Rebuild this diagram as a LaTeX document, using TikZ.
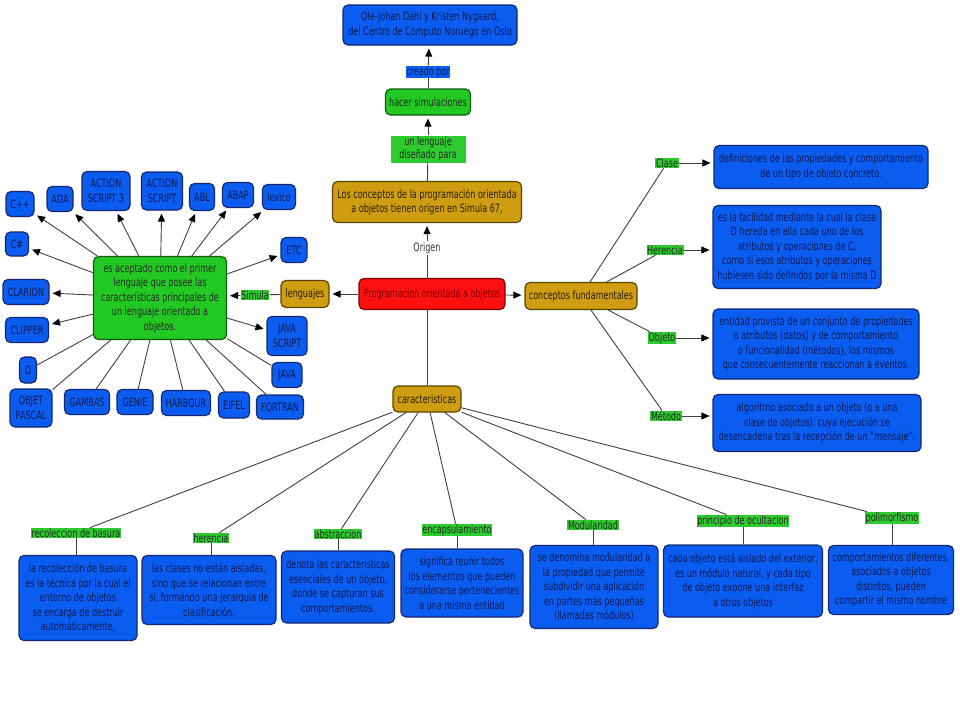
\documentclass[tikz,border=0pt]{standalone}
\usepackage{fontspec}
\setmainfont{DejaVu Sans}[FakeStretch=0.70]
\usetikzlibrary{arrows.meta}
\definecolor{azul}{HTML}{0B5DF2}
\definecolor{azulborde}{HTML}{14286E}
\definecolor{azultexto}{HTML}{0A1A50}
\definecolor{verde}{HTML}{22C922}
\definecolor{verdeborde}{HTML}{0E5A0E}
\definecolor{verdeet}{HTML}{2DCB2D}
\definecolor{oro}{HTML}{CF9D12}
\definecolor{oroborde}{HTML}{5C4500}
\definecolor{orotexto}{HTML}{2A1F00}
\definecolor{rojo}{HTML}{FF1010}
\definecolor{rojoborde}{HTML}{7A0000}
\definecolor{linea}{HTML}{404040}
\tikzset{
  base/.style={rounded corners=5pt, line width=1.2pt, align=center, inner sep=1pt,
    font=\fontsize{11.5}{14.5}\selectfont},
  azulcaja/.style={base, draw=azulborde, fill=azul, text=azultexto},
  verdecaja/.style={base, draw=verdeborde, fill=verde, text=black!85},
  orocaja/.style={base, draw=oroborde, fill=oro, text=orotexto},
  rojocaja/.style={base, draw=rojoborde, fill=rojo, text=rojoborde},
  etiqueta/.style={fill=verdeet, inner sep=0.6pt, align=center, text=black!85,
    font=\fontsize{11.5}{13}\selectfont},
  enlace/.style={draw=linea, line width=0.9pt},
  flecha/.style={enlace, -{Triangle[length=8pt,width=7pt,color=black]}, shorten >=3pt}
}
\begin{document}
\begin{tikzpicture}[x=1pt,y=-1pt]
\useasboundingbox (0,0) rectangle (960,720);
\fill[white] (0,0) rectangle (960,720);
%% origen
\node[azulcaja, minimum width=174, minimum height=40] (autores) at (430,25) {Ole-Johan Dahl y Kristen Nygaard,\\del Centro de Cómputo Noruego en Oslo};
\node[etiqueta, fill=azul, text=azultexto] (creado) at (428,72) {creado por};
\node[verdecaja, minimum width=85, minimum height=26] (simular) at (428,102) {hacer simulaciones};
\node[etiqueta, minimum width=75, minimum height=27] (disenado) at (428,149) {un lenguaje\\diseñado para};
\node[orocaja, minimum width=189, minimum height=41] (simula67) at (427,202) {Los conceptos de la programación orientada\\a objetos tienen origen en Simula 67,};
\node[font=\fontsize{11.5}{13}\selectfont, text=black!80, inner sep=1pt] (origen) at (427,248) {Origen};
\node[rojocaja, minimum width=146, minimum height=31] (poo) at (432,294) {Programacion orientada a objetos};
\node[orocaja, minimum width=48, minimum height=27] (lenguajes) at (305,294) {lenguajes};
\node[orocaja, minimum width=112, minimum height=27] (conceptos) at (581,296) {conceptos fundamentales};
\node[orocaja, minimum width=68, minimum height=26] (caract) at (427,399) {caracteristicas};
\draw[enlace] (origen) -- (origen |- poo.north);
\draw[flecha] (origen) -- (simula67);
\draw[enlace] (simula67) -- (disenado);
\draw[flecha] (disenado) -- (simular);
\draw[enlace] (simular) -- (creado);
\draw[flecha] (creado) -- (autores);
\draw[flecha] (poo) -- (lenguajes);
\draw[flecha] (poo) -- (conceptos);
\draw[enlace] (caract) -- (caract |- poo.south);
%% lenguajes
\node[etiqueta] (simula) at (255,295) {Simula};
\node[verdecaja, minimum width=133, minimum height=83] (primer) at (160,298) {es aceptado como el primer\\lenguaje que posee las\\características principales de\\un lenguaje orientado a\\objetos.};
\draw[enlace] (lenguajes) -- (simula);
\draw[flecha] (simula) -- (primer);
\node[azulcaja, minimum width=28, minimum height=25] (cpp) at (20,204) {C++};
\node[azulcaja, minimum width=26, minimum height=25] (ada) at (60,199) {ADA};
\node[azulcaja, minimum width=48, minimum height=39] (as3) at (106,191) {ACTION\\SCRIPT 3};
\node[azulcaja, minimum width=41, minimum height=38] (as) at (162,191) {ACTION\\SCRIPT};
\node[azulcaja, minimum width=25, minimum height=27] (abl) at (202,197) {ABL};
\node[azulcaja, minimum width=31, minimum height=25] (abap) at (238,195) {ABAP};
\node[azulcaja, minimum width=33, minimum height=25] (lexico) at (279,197) {lexico};
\node[azulcaja, minimum width=23, minimum height=24] (csharp) at (17,244) {C\#};
\node[azulcaja, minimum width=26, minimum height=25] (etc) at (294,250) {ETC};
\node[azulcaja, minimum width=46, minimum height=25] (clarion) at (26,292) {CLARION};
\node[azulcaja, minimum width=43, minimum height=25] (clipper) at (27,330) {CLIPPER};
\node[azulcaja, minimum width=40, minimum height=39] (js) at (287,336) {JAVA\\SCRIPT};
\node[azulcaja, minimum width=17, minimum height=26] (d) at (28,370) {D};
\node[azulcaja, minimum width=30, minimum height=25] (java) at (287,375) {JAVA};
\node[azulcaja, minimum width=42, minimum height=38] (pascal) at (31,408) {OBJET\\PASCAL};
\node[azulcaja, minimum width=45, minimum height=25] (gambas) at (87,402) {GAMBAS};
\node[azulcaja, minimum width=36, minimum height=25] (genie) at (135,402) {GENIE};
\node[azulcaja, minimum width=49, minimum height=25] (harbour) at (186,403) {HARBOUR};
\node[azulcaja, minimum width=31, minimum height=26] (eifel) at (234,405) {EIFEL};
\node[azulcaja, minimum width=47, minimum height=24] (fortran) at (280,407) {FORTRAN};
\draw[flecha] (primer) -- (cpp);
\draw[flecha] (primer) -- (ada);
\draw[flecha] (primer) -- (as3);
\draw[flecha] (primer) -- (as);
\draw[flecha] (primer) -- (abl);
\draw[flecha] (primer) -- (abap);
\draw[flecha] (primer) -- (lexico);
\draw[flecha] (primer) -- (csharp);
\draw[flecha] (primer) -- (etc);
\draw[flecha] (primer) -- (clarion);
\draw[flecha] (primer) -- (clipper);
\draw[flecha] (primer) -- (js);
\draw[enlace] (primer) -- (d);
\draw[enlace] (primer) -- (java);
\draw[enlace] (primer) -- (pascal);
\draw[enlace] (primer) -- (gambas);
\draw[enlace] (primer) -- (genie);
\draw[enlace] (primer) -- (harbour);
\draw[enlace] (primer) -- (eifel);
\draw[enlace] (primer) -- (fortran);
%% conceptos fundamentales
\node[etiqueta] (clase) at (667,163) {Clase};
\node[azulcaja, minimum width=214, minimum height=43] (defclase) at (821,167) {definiciones de las propiedades y comportamiento\\de un tipo de objeto concreto.};
\node[etiqueta] (herencia) at (665,250) {Herencia};
\node[azulcaja, minimum width=168, minimum height=83] (defherencia) at (797,247) {es la facilidad mediante la cual la clase\\D hereda en ella cada uno de los\\atributos y operaciones de C,\\como si esos atributos y operaciones\\hubiesen sido definidos por la misma D};
\node[etiqueta] (objeto) at (662,338) {Objeto};
\node[azulcaja, minimum width=206, minimum height=70] (defobjeto) at (816,344) {entidad provista de un conjunto de propiedades\\o atributos (datos) y de comportamiento\\o funcionalidad (métodos), los mismos\\que consecuentemente reaccionan a eventos.};
\node[etiqueta] (metodo) at (666,416) {Método};
\node[azulcaja, minimum width=208, minimum height=57] (defmetodo) at (817,423) {algoritmo asociado a un objeto (o a una\\clase de objetos), cuya ejecución se\\desencadena tras la recepción de un "mensaje".};
\draw[enlace] (conceptos) -- (clase);
\draw[enlace] (conceptos) -- (herencia);
\draw[enlace] (conceptos) -- (objeto);
\draw[enlace] (conceptos) -- (metodo);
\draw[flecha] (clase) -- (clase -| defclase.west);
\draw[flecha] (herencia) -- (herencia -| defherencia.west);
\draw[flecha] (objeto) -- (objeto -| defobjeto.west);
\draw[flecha] (metodo) -- (metodo -| defmetodo.west);
%% caracteristicas
\node[etiqueta] (basura) at (76,533) {recoleccion de basura};
\node[azulcaja, minimum width=118, minimum height=85] (defbasura) at (78,598) {la recolección de basura\\es la técnica por la cual el\\entorno de objetos\\se encarga de destruir\\automáticamente,};
\node[etiqueta] (herencia2) at (211,538) {herencia};
\node[azulcaja, minimum width=134, minimum height=69] (defherencia2) at (209,590) {las clases no están aisladas,\\sino que se relacionan entre\\sí, formando una jerarquía de\\clasificación.};
\node[etiqueta] (abstraccion) at (338,534) {abstraccion};
\node[azulcaja, minimum width=113, minimum height=72] (defabstraccion) at (338,587) {denota las características\\esenciales de un objeto,\\donde se capturan sus\\comportamientos.};
\node[etiqueta] (encapsula) at (457,530) {encapsulamiento};
\node[azulcaja, minimum width=122, minimum height=68] (defencapsula) at (462,583) {significa reunir todos\\los elementos que pueden\\considerarse pertenecientes\\a una misma entidad};
\node[etiqueta] (modular) at (593,525) {Modularidad};
\node[azulcaja, minimum width=128, minimum height=83] (defmodular) at (594,587) {se denomina modularidad a\\la propiedad que permite\\subdividir una aplicación\\en partes más pequeñas\\(llamadas módulos)};
\node[etiqueta] (ocultacion) at (743,521) {principio de ocultacion};
\node[azulcaja, minimum width=159, minimum height=72] (defocultacion) at (743,581) {cada objeto está aislado del exterior,\\es un módulo natural, y cada tipo\\de objeto expone una interfaz\\a otros objetos};
\node[etiqueta] (polimorfismo) at (892,518) {polimorfismo};
\node[azulcaja, minimum width=125, minimum height=69] (defpolimorfismo) at (891,580) {comportamientos diferentes,\\asociados a objetos\\distintos, pueden\\compartir el mismo nombre};
\draw[enlace] (caract) -- (basura);
\draw[enlace] (caract) -- (herencia2);
\draw[enlace] (caract) -- (abstraccion);
\draw[enlace] (caract) -- (encapsula);
\draw[enlace] (caract) -- (modular);
\draw[enlace] (caract) -- (ocultacion);
\draw[enlace] (caract) -- (polimorfismo);
\draw[enlace] (basura) -- (basura |- defbasura.north);
\draw[enlace] (herencia2) -- (herencia2 |- defherencia2.north);
\draw[enlace] (abstraccion) -- (abstraccion |- defabstraccion.north);
\draw[enlace] (encapsula) -- (encapsula |- defencapsula.north);
\draw[enlace] (modular) -- (modular |- defmodular.north);
\draw[enlace] (ocultacion) -- (ocultacion |- defocultacion.north);
\draw[enlace] (polimorfismo) -- (polimorfismo |- defpolimorfismo.north);
\end{tikzpicture}
\end{document}
